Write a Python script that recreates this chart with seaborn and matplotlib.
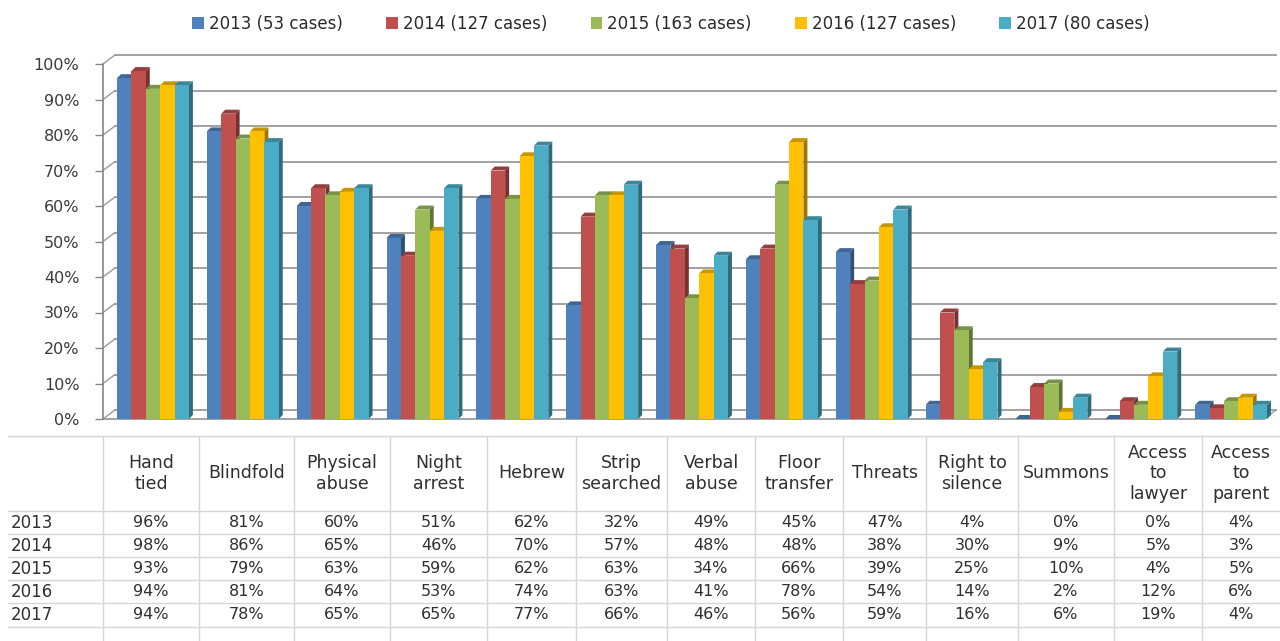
import numpy as np
import pandas as pd
import matplotlib
matplotlib.use("Agg")
import matplotlib.pyplot as plt
import seaborn as sns
from matplotlib.patches import Polygon
from matplotlib.colors import to_rgb

# ---------------- data ----------------
categories = ["Hand tied", "Blindfold", "Physical abuse", "Night arrest", "Hebrew",
              "Strip searched", "Verbal abuse", "Floor transfer", "Threats",
              "Right to silence", "Summons", "Access to lawyer", "Access to parent"]
header_labels = ["Hand\ntied", "Blindfold", "Physical\nabuse", "Night\narrest", "Hebrew",
                 "Strip\nsearched", "Verbal\nabuse", "Floor\ntransfer", "Threats",
                 "Right to\nsilence", "Summons", "Access\nto\nlawyer", "Access\nto\nparent"]
years = ["2013", "2014", "2015", "2016", "2017"]
cases = [53, 127, 163, 127, 80]
v2013 = [96, 81, 60, 51, 62, 32, 49, 45, 47, 4, 0, 0, 4]
v2014 = [98, 86, 65, 46, 70, 57, 48, 48, 38, 30, 9, 5, 3]
v2015 = [93, 79, 63, 59, 62, 63, 34, 66, 39, 25, 10, 4, 5]
v2016 = [94, 81, 64, 53, 74, 63, 41, 78, 54, 14, 2, 12, 6]
v2017 = [94, 78, 65, 65, 77, 66, 46, 56, 59, 16, 6, 19, 4]
yticks = [0, 10, 20, 30, 40, 50, 60, 70, 80, 90, 100]

series_values = [v2013, v2014, v2015, v2016, v2017]
series_labels = [f"{y} ({c} cases)" for y, c in zip(years, cases)]
colors = ["#4F81BD", "#C0504D", "#9BBB59", "#FFC000", "#4BACC6"]

rows = []
for lab, vals in zip(series_labels, series_values):
    for cat, v in zip(categories, vals):
        rows.append({"category": cat, "series": lab, "value": v / 100.0})
df = pd.DataFrame(rows)

# ---------------- layout ----------------
W, H = 1280, 641
fig = plt.figure(figsize=(W / 100, H / 100), dpi=100)
fig.patch.set_facecolor("white")


def px_rect(x0, y0, x1, y1):
    return [x0 / W, 1 - y1 / H, (x1 - x0) / W, (y1 - y0) / H]


AX_L, AX_T, AX_R, AX_B = 103, 64, 1276, 419
ax = fig.add_axes(px_rect(AX_L, AX_T, AX_R, AX_B))
ax_w_px = AX_R - AX_L
ax_h_px = AX_B - AX_T

sns.barplot(data=df, x="category", y="value", hue="series", palette=colors,
            width=0.8, saturation=1, errorbar=None, linewidth=0, ax=ax)

handles, labels = ax.get_legend_handles_labels()
if ax.get_legend() is not None:
    ax.get_legend().remove()

ax.set_xticks([])
xlim = (-0.556, 12.5)
ax.set_xlim(*xlim)
ax.set_ylim(0, 1.0)
ax.set_xlabel("")
ax.set_ylabel("")

# 3D-look side/top faces derived from the drawn bars
sx = (xlim[1] - xlim[0]) / ax_w_px
sy = 1.0 / ax_h_px
dx = 4 * sx
dy = 4 * sy


def shade(c, f):
    r, g, b = to_rgb(c)
    return (r * f, g * f, b * f)


bars = []
for cont in ax.containers:
    for p in cont.patches:
        bars.append(p)
bars.sort(key=lambda p: p.get_x())
for i, p in enumerate(bars):
    x0 = p.get_x()
    w = p.get_width()
    h = p.get_height()
    fc = p.get_facecolor()
    z = 3 + i * 0.01
    p.set_zorder(z)
    side = Polygon([(x0 + w, 0), (x0 + w + dx, dy), (x0 + w + dx, h + dy), (x0 + w, h)],
                   closed=True, facecolor=shade(fc, 0.62), edgecolor="none", zorder=z - 0.005)
    top = Polygon([(x0, h), (x0 + dx, h + dy), (x0 + w + dx, h + dy), (x0 + w, h)],
                  closed=True, facecolor=shade(fc, 0.78), edgecolor="none", zorder=z - 0.004,
                  clip_on=False)
    ax.add_patch(side)
    ax.add_patch(top)

# back wall gridlines (offset) + slanted connectors
grid_c = "#9a9a9a"
ox = 12 / ax_w_px
oy = 9 / ax_h_px
ytr = ax.get_yaxis_transform()
for t in yticks:
    v = t / 100
    ax.plot([ox, 1], [v + oy, v + oy], transform=ytr, color=grid_c, lw=1.3,
            zorder=0.5, clip_on=False)
    ax.plot([0, ox], [v, v + oy], transform=ytr, color=grid_c, lw=1.0,
            zorder=0.5, clip_on=False)
# floor front edge and right slant
ax.plot([0, 1 - ox], [0, 0], transform=ytr, color=grid_c, lw=1.3, zorder=0.6, clip_on=False)
ax.plot([1 - ox, 1], [0, oy], transform=ytr, color=grid_c, lw=1.0, zorder=0.6, clip_on=False)

ax.set_yticks([t / 100 for t in yticks])
ax.set_yticklabels([f"{t}%" for t in yticks])
ax.tick_params(axis="y", length=6, width=1.0, color="#868686", labelsize=11.5,
               labelcolor="#3a3a3a", pad=11)
for s in ["top", "right", "bottom"]:
    ax.spines[s].set_visible(False)
ax.spines["left"].set_color("#868686")
ax.spines["left"].set_linewidth(1.2)
ax.set_facecolor("none")

fig.legend(handles, labels, loc="center", bbox_to_anchor=(671 / W, 1 - 24 / H), ncol=5,
           frameon=False, fontsize=12, handlelength=0.7, handleheight=0.7,
           handletextpad=0.3, columnspacing=2.6, labelcolor="#2a2a2a")

# ---------------- data table ----------------
tax = fig.add_axes(px_rect(0, 430, W, H))
tax.set_xlim(0, W)
tax.set_ylim(H, 430)
tax.axis("off")

edges = [0, 103, 199, 294, 390, 487, 576, 667, 755, 843, 926, 1018, 1114, 1202, 1280]
hlines_y = [436, 511, 534.5, 557.5, 580.5, 603.5, 627]
line_c = "#d6d6d6"
for yv in hlines_y:
    tax.plot([8, W], [yv, yv], color=line_c, lw=1.0)
for xv in edges[1:-1]:
    tax.plot([xv, xv], [436, H], color=line_c, lw=1.0)

txt_c = "#2f2f2f"
centers = [(edges[i + 1] + edges[i + 2]) / 2 for i in range(len(categories))]
for cx, lab in zip(centers, header_labels):
    tax.text(cx, 473.5, lab, ha="center", va="center", fontsize=12.5,
             linespacing=1.15, color=txt_c)

row_centers = [523, 546, 569, 592, 615]
for ry, yr, vals in zip(row_centers, years, series_values):
    tax.text(11, ry, yr, ha="left", va="center", fontsize=12, color=txt_c)
    for cx, v in zip(centers, vals):
        tax.text(cx, ry, f"{v}%", ha="center", va="center", fontsize=11.5, color=txt_c)

fig.savefig("out.png", dpi=100, facecolor="white")
